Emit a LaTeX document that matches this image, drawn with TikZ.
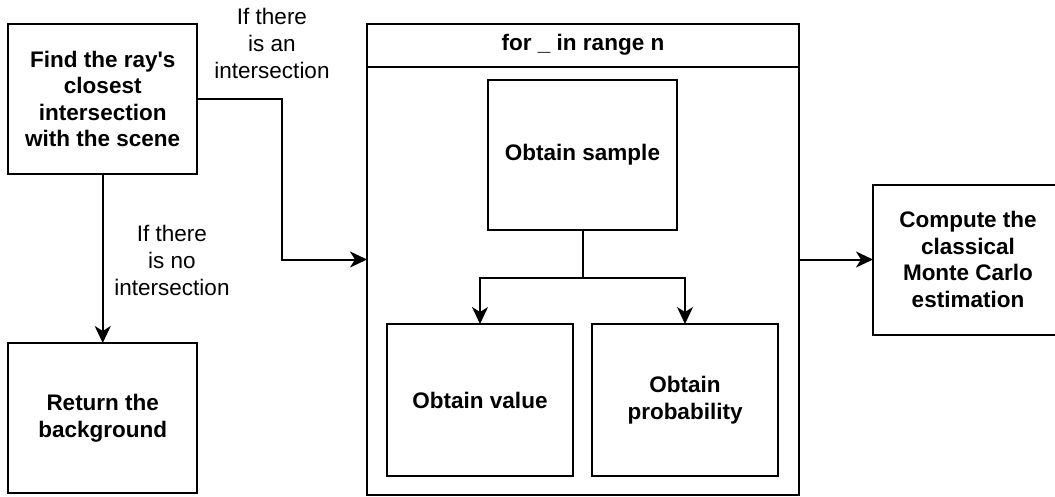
\documentclass[tikz,border=0pt]{standalone}
\usepackage{fontspec}
\setmainfont{Liberation Sans}
\usetikzlibrary{arrows.meta}
\begin{document}
\begin{tikzpicture}[x=1pt,y=-1pt,
  every node/.style={inner sep=0pt, outer sep=0pt},
  procbox/.style={draw=black, line width=2pt, fill=white, align=center,
    font=\fontsize{22.5}{26.5}\selectfont\bfseries},
  condlabel/.style={align=center, font=\fontsize{22.5}{27}\selectfont},
  flow/.style={draw=black, line width=2pt,
    -{Stealth[length=17pt,width=16pt,inset=5pt]}},
  wire/.style={draw=black, line width=2pt}]
\path[use as bounding box, clip] (0,0) rectangle (1055,496);

% ray query and its two outcomes
\node[procbox, minimum width=189pt, minimum height=150pt] (find) at (102.75,99)
  {Find the ray\textquotesingle s\\closest\\intersection\\with the scene};
\node[procbox, minimum width=189pt, minimum height=150pt] (ret) at (102.75,418)
  {Return the\\background};

% sampling loop container
\node[draw=black, line width=2pt, minimum width=432pt, minimum height=471pt] (loop) at (583,259.5) {};
\coordinate (hdl) at (367,67);
\coordinate (hdr) at (799,67);
\draw[wire] (hdl) -- (hdr);
\node[font=\fontsize{22.5}{26.5}\selectfont\bfseries] (hdr text) at (583,45) {for \_ in range n};

\node[procbox, minimum width=189pt, minimum height=150pt] (sample) at (582.5,155)
  {Obtain sample};
\node[procbox, minimum width=186pt, minimum height=152pt] (value) at (480,400)
  {Obtain value};
\node[procbox, minimum width=186pt, minimum height=152pt] (prob) at (685,400)
  {Obtain\\probability};

% final estimate
\node[procbox, minimum width=190pt, minimum height=150pt] (est) at (968,259.5)
  {Compute the\\classical\\Monte Carlo\\estimation};

% connectors
\draw[flow] (find.south) -- (ret.north);
\draw[flow] (find.east) -- ++(85,0) |- (loop.west);
\draw[flow] (sample.south) -- ++(0,48) -| (value.north);
\draw[flow] (sample.south) -- ++(0,48) -| (prob.north);
\draw[flow] (loop.east) -- (est.west);

% branch labels
\node[condlabel] (lbl hit) at (272,43) {If there\\is an\\intersection};
\node[condlabel] (lbl miss) at (172,260) {If there\\is no\\intersection};
\end{tikzpicture}
\end{document}
